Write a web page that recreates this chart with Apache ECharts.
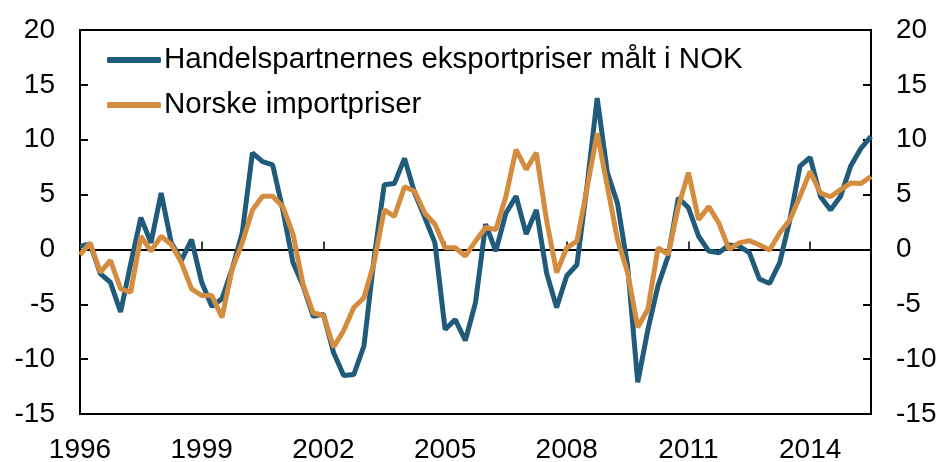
<!DOCTYPE html>
<html>
<head>
<meta charset="utf-8">
<script src="https://cdn.jsdelivr.net/npm/echarts@6/dist/echarts.min.js"></script>
<style>
  html, body { margin: 0; padding: 0; background: #fff; }
  #chart1 { width: 938px; height: 462px; }
</style>
</head>
<body>
<div id="chart1"></div>
<script>
// quarterly, 1996 Q1 .. 2015 Q3
var startYear = 1996;
var seriesNames = ["Handelspartnernes eksportpriser målt i NOK", "Norske importpriser"];
var yearLabels = ["1996", "1999", "2002", "2005", "2008", "2011", "2014"];
var yTicks = [-15, -10, -5, 0, 5, 10, 15, 20];

var eksportpriser = [
    0.3, 0.5, -2.2, -3.0, -5.7, -1.3, 2.9, 0.6,
    5.15, 0.6, -1.0, 0.9, -3.0, -5.2, -4.5, -1.8,
    1.5, 8.8, 8.0, 7.7, 3.6, -1.2, -3.3, -6.1,
    -5.9, -9.4, -11.5, -11.4, -8.8, -0.8, 5.9, 6.0,
    8.3, 5.15, 2.9, 0.6, -7.3, -6.4, -8.3, -4.85,
    2.3, -0.15, 3.3, 4.85, 1.4, 3.6, -2.1, -5.3,
    -2.4, -1.4, 5.8, 13.8, 7.0, 4.2, -1.5, -12.1,
    -7.3, -3.3, -0.6, 4.7, 3.8, 1.2, -0.15, -0.3,
    0.4, 0.3, -0.3, -2.7, -3.1, -1.2, 2.7, 7.6,
    8.4, 4.85, 3.6, 4.85, 7.6, 9.2, 10.3
];
var importpriser = [
    -0.5, 0.6, -2.1, -1.0, -3.6, -3.9, 1.2, -0.15,
    1.2, 0.45, -1.2, -3.6, -4.2, -4.2, -6.2, -1.8,
    0.6, 3.6, 4.85, 4.85, 3.9, 1.4, -3.2, -5.8,
    -6.0, -8.9, -7.4, -5.3, -4.4, -1.2, 3.6, 3.0,
    5.7, 5.3, 3.3, 2.3, 0.15, 0.15, -0.6, 0.75,
    2.0, 1.8, 4.85, 9.1, 7.3, 8.8, 2.7, -2.1,
    0.15, 0.75, 5.6, 10.6, 5.75, 0.9, -2.1, -7.1,
    -5.45, 0.15, -0.45, 3.9, 7.0, 2.7, 3.9, 2.4,
    0, 0.6, 0.8, 0.4, -0.05, 1.5, 2.7, 4.85,
    7.1, 5.15, 4.8, 5.45, 6.05, 6.0, 6.65
];

function toPoints(values) {
    var pts = [];
    for (var i = 0; i < values.length; i++) {
        pts.push([startYear + i / 4, values[i]]);
    }
    return pts;
}

var font = "Liberation Sans, Arial, sans-serif";
var blue = "#215b7b";
var orange = "#d48c3f";

var yAxisBase = function (pos) {
    return {
        type: "value",
        position: pos,
        min: yTicks[0],
        max: yTicks[yTicks.length - 1],
        interval: 5,
        axisLine: { show: true, lineStyle: { color: "#000", width: 2 } },
        axisTick: { show: true, inside: true, length: 8, lineStyle: { color: "#000", width: 2 } },
        axisLabel: { color: "#000", fontSize: 28, fontFamily: font, margin: 25 },
        splitLine: { show: false }
    };
};

var myChart = echarts.init(document.getElementById("chart1"));
var option = {
    animation: false,
    backgroundColor: "#fff",
    grid: {
        left: 80, right: 67, top: 30, bottom: 48,
        outerBoundsMode: "none",
        containLabel: false,
        show: true, borderColor: "#000", borderWidth: 2, backgroundColor: "transparent"
    },
    legend: {
        orient: "vertical",
        left: 107,
        top: 45,
        padding: 0,
        itemGap: 15,
        itemWidth: 54,
        itemHeight: 6,
        icon: "roundRect",
        textStyle: { color: "#000", fontSize: 29.5, fontFamily: font, lineHeight: 30, padding: [0, 0, 0, -2] },
        data: seriesNames
    },
    xAxis: {
        type: "value",
        min: startYear,
        max: startYear + (eksportpriser.length - 1) / 4,
        interval: 3,
        axisLine: { show: true, lineStyle: { color: "#000", width: 2 } },
        axisTick: { show: true, inside: true, length: 8, lineStyle: { color: "#000", width: 1.5 } },
        axisLabel: {
            color: "#000", fontSize: 28, fontFamily: font, margin: 22,
            showMaxLabel: false,
            formatter: function (v) {
                var s = String(v);
                return yearLabels.indexOf(s) >= 0 ? s : "";
            }
        },
        splitLine: { show: false }
    },
    yAxis: [yAxisBase("left"), yAxisBase("right")],
    series: [
        {
            name: seriesNames[0],
            type: "line",
            data: toPoints(eksportpriser),
            showSymbol: false,
            symbol: "none",
            color: blue,
            lineStyle: { color: blue, width: 5 },
            z: 3,
            markLine: {
                silent: true,
                symbol: "none",
                label: { show: false },
                lineStyle: { color: "#000", width: 2, type: "solid" },
                data: [{ yAxis: 0 }],
                z: 1
            }
        },
        {
            name: seriesNames[1],
            type: "line",
            data: toPoints(importpriser),
            showSymbol: false,
            symbol: "none",
            color: orange,
            lineStyle: { color: orange, width: 5 },
            z: 4
        }
    ]
};
myChart.setOption(option);
</script>
</body>
</html>
